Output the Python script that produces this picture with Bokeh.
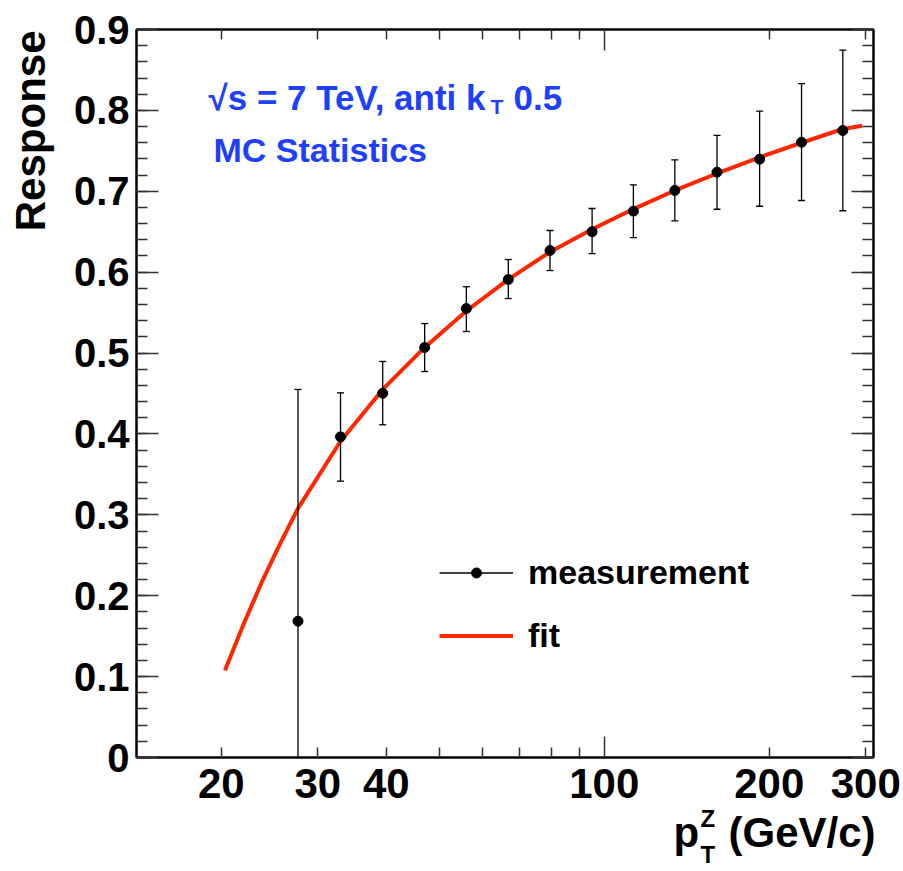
import math
from bokeh.plotting import figure
from bokeh.layouts import column, row
from bokeh.models import (LogAxis, LinearAxis, FixedTicker, Label, Legend, LegendItem,
                          ColumnDataSource, CustomJSTickFormatter, Range1d)
from bokeh.core.properties import value
from bokeh.embed import file_html
from bokeh.resources import INLINE

# ---------------- data ----------------
pt = [27.6, 33.0, 39.4, 47.0, 56.0, 66.8, 79.6, 95.0, 113.0, 134.5, 160.6, 192.1, 229.1, 272.5]
response = [0.1685, 0.3964, 0.4503, 0.5069, 0.5550, 0.5910, 0.6268, 0.6500, 0.6754, 0.7010,
            0.7236, 0.7397, 0.7607, 0.7751]
err_lo = [-0.118, 0.3416, 0.4113, 0.4772, 0.5266, 0.5674, 0.6020, 0.6230, 0.6428, 0.6635,
          0.6778, 0.6815, 0.6886, 0.6759]
err_hi = [0.4550, 0.4508, 0.4896, 0.5365, 0.5820, 0.6156, 0.6515, 0.6787, 0.7080, 0.7389,
          0.7690, 0.7990, 0.8332, 0.8744]

fit_pt = [20.3, 21.9, 23.7, 25.5, 27.6, 33.0, 39.4, 47.0, 56.0, 66.8, 79.6, 95.0, 113.0,
          134.5, 160.6, 192.1, 229.1, 272.5, 295.7]
fit_r = [0.1075, 0.163, 0.2167, 0.262, 0.308, 0.391, 0.455, 0.507, 0.552, 0.591, 0.625,
         0.653, 0.678, 0.701, 0.722, 0.742, 0.760, 0.777, 0.781]

x_label_ticks = [20, 30, 40, 100, 200, 300]
x_label_text = ["20", "30", "40", "100", "200", "300"]
x_major_marks = [100]
x_minor_marks = [20, 30, 40, 50, 60, 70, 80, 90, 200, 300]
y_ticks = [0, 0.1, 0.2, 0.3, 0.4, 0.5, 0.6, 0.7, 0.8, 0.9]
y_tick_text = ["0", "0.1", "0.2", "0.3", "0.4", "0.5", "0.6", "0.7", "0.8", "0.9"]
y_minor = [round(i * 0.02, 2) for i in range(46)]

X_MIN, X_MAX = 14, 310
Y_MIN, Y_MAX = 0, 0.9

FONT = "Liberation Sans"
BLUE = "#1f3fff"
RED = "#ff2600"

# ---------------- layout geometry (pixels) ----------------
W, H = 903, 871
LEFT_W = 134            # left strip (y title + y tick labels)
FRAME_L, FRAME_R, FRAME_T, FRAME_B = 136, 873, 29, 757
MAIN_H = 760
MAIN_W = W - LEFT_W
BOT_H = H - MAIN_H

def bare(fig):
    fig.grid.grid_line_color = None
    fig.outline_line_color = None
    fig.background_fill_color = "white"
    fig.border_fill_color = "white"
    try:
        fig.frame_align = False
    except Exception:
        pass

def lab(fig, text, x, y, size, color="black", align="left", angle=0.0):
    fig.add_layout(Label(x=x, y=y, x_units="screen", y_units="screen", text=text,
                         text_font=FONT, text_font_style="bold", text_font_size=size,
                         text_color=color, text_align=align, text_baseline="alphabetic",
                         angle=angle))

x_range = Range1d(X_MIN, X_MAX)

# ---------------- main plot ----------------
p = figure(width=MAIN_W, height=MAIN_H, x_axis_type="log",
           x_range=x_range, y_range=Range1d(Y_MIN, Y_MAX),
           x_axis_location=None, y_axis_location=None,
           toolbar_location=None, output_backend="svg",
           min_border_left=FRAME_L - LEFT_W, min_border_right=W - FRAME_R,
           min_border_top=FRAME_T, min_border_bottom=MAIN_H - FRAME_B)
bare(p)
p.outline_line_color = "black"
p.outline_line_width = 2

blank = CustomJSTickFormatter(code="return '';")

def tick_only(ax, major_in, minor_in):
    ax.formatter = blank
    ax.axis_line_color = "black"
    ax.axis_line_width = 2
    ax.major_tick_line_color = "#333333"
    ax.minor_tick_line_color = "#333333"
    ax.major_tick_line_width = 1.5
    ax.minor_tick_line_width = 1.5
    ax.major_tick_out = 0
    ax.minor_tick_out = 0
    ax.major_tick_in = major_in
    ax.minor_tick_in = minor_in
    ax.major_label_standoff = 0
    ax.major_label_text_font_size = "1px"
    return ax

for side in ("left", "right"):
    p.add_layout(tick_only(LinearAxis(ticker=FixedTicker(ticks=y_ticks, minor_ticks=y_minor)), 22, 11), side)
for side in ("below", "above"):
    p.add_layout(tick_only(LogAxis(ticker=FixedTicker(ticks=x_major_marks, minor_ticks=x_minor_marks)), 21, 10), side)

src = ColumnDataSource(dict(x=pt, y=response, lo=err_lo, hi=err_hi))
fit_src = ColumnDataSource(dict(x=fit_pt, y=fit_r))

fit_line = p.line("x", "y", source=fit_src, line_color=RED, line_width=4)
seg = p.segment(x0="x", y0="lo", x1="x", y1="hi", source=src, line_color="black", line_width=1.3)
p.scatter("x", "lo", source=src, marker="dash", size=7, line_color="black", line_width=1.3)
p.scatter("x", "hi", source=src, marker="dash", size=7, line_color="black", line_width=1.3)
pts = p.scatter("x", "y", source=src, marker="circle", size=10, fill_color="black", line_color="black")

legend = Legend(items=[LegendItem(label="measurement", renderers=[seg, pts]),
                       LegendItem(label="fit", renderers=[fit_line])],
                location=(303, 102), orientation="vertical",
                glyph_width=74, glyph_height=25, label_height=40, spacing=23, label_standoff=15,
                padding=0, margin=0, border_line_color=None, background_fill_alpha=0,
                label_text_font=FONT, label_text_font_style="bold", label_text_color="black",
                label_text_font_size="34px", label_text_baseline="middle")
p.add_layout(legend)

lab(p, "\u221As = 7 TeV, anti k", 72, 660, "35px", BLUE)
lab(p, "T", 354, 651, "21px", BLUE)
lab(p, "0.5", 377, 660, "35px", BLUE)
lab(p, "MC Statistics", 77, 608, "34px", BLUE)

# ---------------- left strip: y tick labels and y title (full height) ----------------
k = (Y_MAX - Y_MIN) / (FRAME_B - FRAME_T)
left = figure(width=LEFT_W, height=H, x_range=Range1d(0, LEFT_W),
              y_range=Range1d(Y_MIN - (H - FRAME_B) * k, Y_MAX + FRAME_T * k),
              x_axis_location=None, y_axis_location=None, toolbar_location=None,
              output_backend="svg", min_border=0)
bare(left)
ysrc = ColumnDataSource(dict(y=y_ticks, t=y_tick_text, x=[129] * len(y_ticks)))
left.text(x="x", y="y", text="t", source=ysrc, text_font=value(FONT), text_font_style="bold",
          text_font_size="40px", text_color="black", text_align="right", text_baseline="middle")
lab(left, "Response", 30, H - 30, "42px", angle=math.pi / 2, align="right")

# ---------------- bottom strip: x tick labels and x title ----------------
px_per_dec = (FRAME_R - FRAME_L) / math.log10(X_MAX / X_MIN)
bot_xmax = 10 ** (math.log10(X_MIN) + (W - FRAME_L) / px_per_dec)
bottom = figure(width=MAIN_W, height=BOT_H, x_axis_type="log", x_range=Range1d(X_MIN, bot_xmax),
                y_range=Range1d(0, BOT_H), x_axis_location=None, y_axis_location=None,
                toolbar_location=None, output_backend="svg",
                min_border_left=FRAME_L - LEFT_W, min_border_right=0,
                min_border_top=0, min_border_bottom=0)
bare(bottom)
lab_src = ColumnDataSource(dict(x=x_label_ticks, y=[88] * len(x_label_ticks), t=x_label_text))
bottom.text(x="x", y="y", text="t", source=lab_src, text_font=value(FONT),
            text_font_style="bold", text_font_size="42px", text_color="black",
            text_align="center", text_baseline="alphabetic")

lab(bottom, "p", 537, 39, "42px")
lab(bottom, "Z", 564, 53, "24px")
lab(bottom, "T", 564, 17, "24px")
lab(bottom, "(GeV/c)", 592, 39, "42px")

layout = row(left, column(p, bottom, spacing=0), spacing=0)
open("out.html", "w").write(file_html(layout, INLINE))
